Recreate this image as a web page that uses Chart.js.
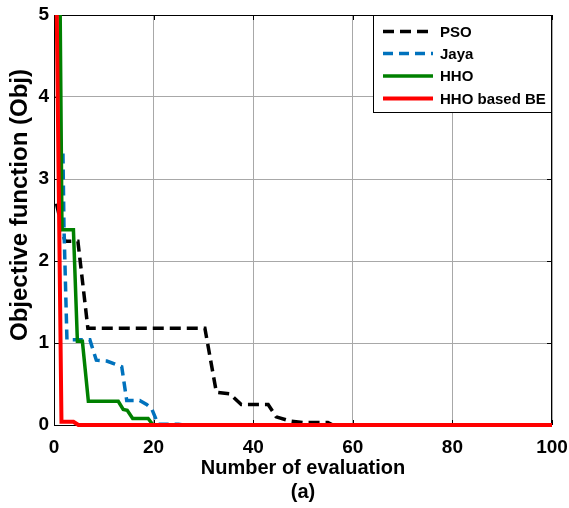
<!DOCTYPE html>
<html>
<head>
<meta charset="utf-8">
<script src="https://cdn.jsdelivr.net/npm/chart.js@4.4.0/dist/chart.umd.min.js"></script>
<style>
  html, body { margin: 0; padding: 0; background: #fff; }
</style>
</head>
<body>
<canvas id="convChart" width="569" height="508" style="width:569px;height:508px"></canvas>
<script>
// values (evaluation number, objective value)
const seriesNames = ['PSO', 'Jaya', 'HHO', 'HHO based BE']

const psoX = [0.5, 2.2, 4.8, 6.8, 30.3, 32.6, 35.3, 37.6, 43, 44.6, 47.3, 50, 55, 56, 100]
const psoY = [2.70, 2.24, 2.24, 1.18, 1.18, 0.40, 0.38, 0.25, 0.25, 0.10, 0.05, 0.03, 0.03, 0, 0]

const jayaX = [1.8, 2.0, 2.6, 7.2, 8.5, 10.6, 13.6, 14.6, 17.2, 18.6, 19.6, 20.9, 25, 26, 100]
const jayaY = [3.31, 2.42, 1.04, 1.04, 0.79, 0.78, 0.71, 0.30, 0.30, 0.25, 0.20, 0.01, 0.01, 0, 0]

const hhoX = [1.2, 1.6, 3.9, 4.7, 5.7, 6.9, 12.9, 13.9, 14.7, 15.8, 18.9, 19.9, 100]
const hhoY = [5.3, 2.38, 2.38, 1.02, 1.02, 0.29, 0.29, 0.19, 0.18, 0.08, 0.08, 0, 0]

const beX = [0.5, 1.5, 3.9, 4.9, 100]
const beY = [5.3, 0.04, 0.04, 0, 0]

const xRange = [0, 100]
const yRange = [0, 5]

const toPoints = (xs, ys) => xs.map((x, i) => ({ x: x, y: ys[i] }))

const boldFont = (size) => ({ family: "'Liberation Sans', Arial, sans-serif", weight: 'bold', size: size })

// box, inward ticks, legend and axis titles in the MATLAB look
const framePlugin = {
    id: 'framePlugin',
    beforeDatasetsDraw(chart) {
        const { ctx, chartArea: a, scales } = chart
        ctx.save()
        ctx.strokeStyle = '#000'
        ctx.lineWidth = 1
        ctx.beginPath()
        scales.x.ticks.forEach(t => {
            const px = Math.round(scales.x.getPixelForValue(t.value)) + 0.5
            ctx.moveTo(px, a.bottom); ctx.lineTo(px, a.bottom - 5)
            ctx.moveTo(px, a.top); ctx.lineTo(px, a.top + 5)
        })
        scales.y.ticks.forEach(t => {
            const py = Math.round(scales.y.getPixelForValue(t.value)) + 0.5
            ctx.moveTo(a.left, py); ctx.lineTo(a.left + 5, py)
            ctx.moveTo(a.right, py); ctx.lineTo(a.right - 5, py)
        })
        ctx.stroke()
        ctx.strokeRect(a.left + 0.5, a.top + 0.5, a.right - a.left - 1, a.bottom - a.top)
        ctx.restore()
    },
    afterDraw(chart) {
        const { ctx, chartArea: a } = chart
        ctx.save()

        // legend
        const boxL = 373, boxT = a.top, boxR = a.right, boxB = 113
        ctx.fillStyle = '#fff'
        ctx.fillRect(boxL, boxT, boxR - boxL, boxB - boxT)
        ctx.strokeStyle = '#000'
        ctx.lineWidth = 1
        ctx.strokeRect(boxL + 0.5, boxT + 0.5, boxR - boxL - 1, boxB - boxT - 1)
        const rows = [31.5, 53.5, 76, 98.5]
        ctx.font = "bold 15px 'Liberation Sans', Arial, sans-serif"
        ctx.textBaseline = 'middle'
        ctx.textAlign = 'left'
        chart.data.datasets.forEach((ds, i) => {
            ctx.strokeStyle = ds.borderColor
            ctx.lineWidth = ds.borderWidth
            ctx.setLineDash(ds.borderDash || [])
            ctx.beginPath()
            ctx.moveTo(383, rows[i])
            ctx.lineTo(433, rows[i])
            ctx.stroke()
            ctx.fillStyle = '#000'
            ctx.fillText(ds.label, 440, rows[i] + 1)
        })
        ctx.setLineDash([])

        // axis titles
        ctx.fillStyle = '#000'
        ctx.textAlign = 'center'
        ctx.textBaseline = 'alphabetic'
        ctx.font = "bold 20px 'Liberation Sans', Arial, sans-serif"
        ctx.fillText('Number of evaluation', (a.left + a.right) / 2, 474)
        ctx.fillText('(a)', (a.left + a.right) / 2, 498)

        ctx.translate(27, 205)
        ctx.rotate(-Math.PI / 2)
        ctx.font = "bold 24px 'Liberation Sans', Arial, sans-serif"
        ctx.fillText('Objective function (Obj)', 0, 0)
        ctx.restore()
    }
}

const ctx = document.getElementById('convChart')

const lineSet = (i, xs, ys, color, width, dash, order) => ({
    label: seriesNames[i],
    data: toPoints(xs, ys),
    borderColor: color,
    borderWidth: width,
    borderDash: dash,
    pointRadius: 0,
    tension: 0,
    fill: false,
    order: order,
    clip: { left: 0, top: 0, right: 0, bottom: 4 }
})

const convChart = new Chart(ctx, {
    type: 'line',
    data: {
        datasets: [
            lineSet(0, psoX, psoY, '#000000', 3.5, [11, 6], 4),
            lineSet(1, jayaX, jayaY, '#0072BD', 3.5, [10, 6], 3),
            lineSet(2, hhoX, hhoY, '#008000', 3.5, [], 2),
            lineSet(3, beX, beY, '#FF0000', 4, [], 1)
        ]
    },
    options: {
        responsive: false,
        animation: false,
        layout: { padding: { left: 0, top: 15, right: 17, bottom: 0 } },
        plugins: {
            legend: { display: false },
            tooltip: { enabled: false }
        },
        scales: {
            x: {
                type: 'linear',
                min: xRange[0],
                max: xRange[1],
                afterFit: s => { s.height = 83; s.paddingLeft = 0; s.paddingRight = 0 },
                border: { display: false },
                grid: { color: '#a8a8a8', lineWidth: 1, drawTicks: false },
                ticks: { stepSize: 20, padding: 11, maxRotation: 0, autoSkip: false, color: '#000', font: boldFont(19) }
            },
            y: {
                min: yRange[0],
                max: yRange[1],
                afterFit: s => { s.width = 54; s.paddingTop = 0; s.paddingBottom = 0 },
                border: { display: false },
                grid: { color: '#a8a8a8', lineWidth: 1, drawTicks: false },
                ticks: { stepSize: 1, padding: 5, color: '#000', font: boldFont(19) }
            }
        }
    },
    plugins: [framePlugin]
})
</script>
</body>
</html>
